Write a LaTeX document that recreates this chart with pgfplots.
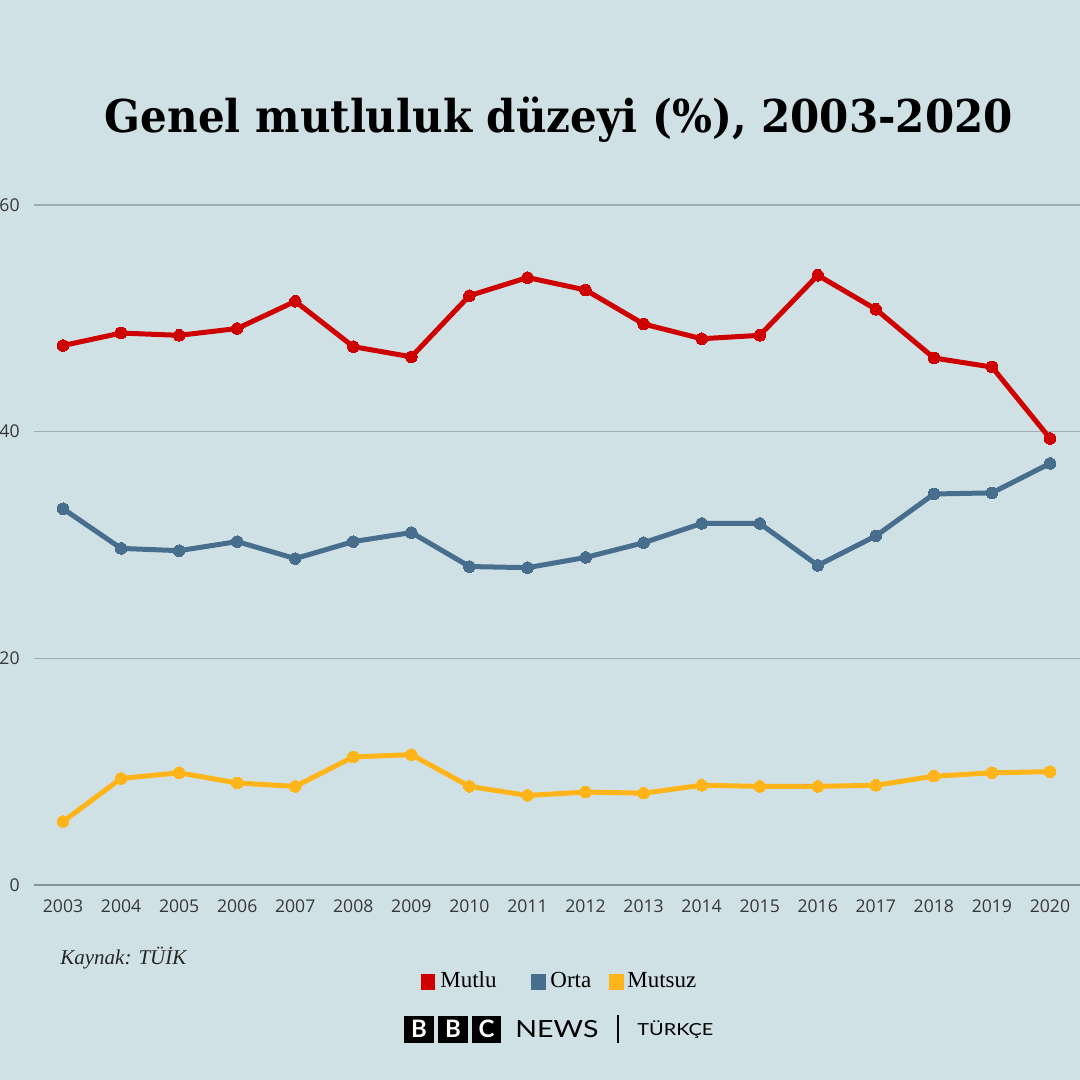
\documentclass[border=0pt]{standalone}
\usepackage{pgfplots}
\pgfplotsset{compat=1.18}
\usepackage{pgfplotstable}
\usepackage{graphicx}
\usepackage{fontspec}
\setmainfont{Liberation Serif}
\newfontfamily\tickfont{Open Sans}
\newfontfamily\titlefont{DejaVu Serif}
\newfontfamily\logofont{Lato}

\definecolor{bg}{RGB}{208,225,230}
\definecolor{cred}{RGB}{206,0,0}
\definecolor{cblue}{RGB}{72,110,142}
\definecolor{cyellow}{RGB}{255,180,25}
\definecolor{gridc}{RGB}{160,172,178}
\definecolor{axisc}{RGB}{135,145,150}
\definecolor{tickc}{RGB}{55,55,55}

\pgfplotstableread{
year mutlu orta mutsuz
2003 47.6 33.2 5.6
2004 48.7 29.7 9.4
2005 48.5 29.5 9.9
2006 49.1 30.3 9.0
2007 51.5 28.8 8.7
2008 47.5 30.3 11.3
2009 46.6 31.1 11.5
2010 52.0 28.1 8.7
2011 53.6 28.0 7.9
2012 52.5 28.9 8.2
2013 49.5 30.2 8.1
2014 48.2 31.9 8.8
2015 48.5 31.9 8.7
2016 53.8 28.2 8.7
2017 50.8 30.8 8.8
2018 46.5 34.5 9.6
2019 45.7 34.6 9.9
2020 39.4 37.2 10.0
}\datatable

\begin{document}
\begin{tikzpicture}
\useasboundingbox (0,0) rectangle (540bp,540bp);
\fill[bg] (0,0) rectangle (540bp,540bp);

\begin{axis}[
  at={(17bp,97.5bp)}, anchor=south west,
  scale only axis, width=523bp, height=340bp,
  xmin=2002.5, xmax=2020.516, ymin=0, ymax=60,
  axis lines*=left,
  y axis line style={draw=none},
  x axis line style={draw=axisc, line width=0.9bp},
  major tick length=0pt,
  xtick={2003,2004,...,2020},
  ytick={0,20,40,60},
  ymajorgrids,
  grid style={draw=gridc, line width=0.6bp},
  /pgf/number format/1000 sep={},
  /pgf/number format/assume math mode=true,
  tick label style={font=\tickfont\fontsize{8.8bp}{10bp}\selectfont, text=tickc},
  xticklabel style={anchor=north, inner sep=0pt, yshift=-7bp},
  yticklabel style={anchor=east, inner sep=0pt, xshift=-7bp},
  clip=false,
  every axis plot/.append style={line width=2.5bp, line join=round},
]
\addplot[cred, mark=*, mark size=2.9bp, mark options={fill=cred, draw=none, line width=0pt}] table[x=year, y=mutlu] {\datatable};
\addplot[cblue, mark=*, mark size=2.9bp, mark options={fill=cblue, draw=none, line width=0pt}] table[x=year, y=orta] {\datatable};
\addplot[cyellow, mark=*, mark size=2.9bp, mark options={fill=cyellow, draw=none, line width=0pt}] table[x=year, y=mutsuz] {\datatable};
\end{axis}

% title
\node[anchor=base, inner sep=0pt] at (279.5bp,473.5bp)
  {\resizebox{454bp}{\height}{\titlefont\bfseries\fontsize{22.6bp}{26bp}\selectfont Genel mutluluk düzeyi (\%), 2003-2020}};

% source
\node[anchor=base west, inner sep=0pt, text=black!85] at (30bp,57.5bp)
  {\fontsize{10.5bp}{12bp}\selectfont\itshape Kaynak: TÜİK};

% legend
\fill[cred] (210.5bp,45bp) rectangle (217.5bp,53bp);
\node[anchor=base west, inner sep=0pt] at (220bp,46bp) {\fontsize{11.5bp}{13bp}\selectfont Mutlu};
\fill[cblue] (265.5bp,45bp) rectangle (273bp,53bp);
\node[anchor=base west, inner sep=0pt] at (275bp,46bp) {\fontsize{11.5bp}{13bp}\selectfont Orta};
\fill[cyellow] (304.5bp,45bp) rectangle (312bp,53bp);
\node[anchor=base west, inner sep=0pt] at (313.5bp,46bp) {\fontsize{11.5bp}{13bp}\selectfont Mutsuz};

% BBC logo
\foreach \xa/\xb/\ltr in {202/217/B, 219/234/B, 236/250.5/C} {
  \fill[black] (\xa bp,18.5bp) rectangle (\xb bp,32bp);
  \node[text=white, inner sep=0pt, anchor=base] at ({(\xa+\xb)/2*1bp},21.3bp) {\logofont\bfseries\fontsize{12bp}{13bp}\selectfont \ltr};
}
\node[anchor=base west, inner sep=0pt] at (257.5bp,21.5bp)
  {\resizebox{41.5bp}{\height}{\logofont\fontsize{11.8bp}{13bp}\selectfont NEWS}};
\draw[black, line width=1bp] (309bp,18.5bp) -- (309bp,32.5bp);
\node[anchor=base west, inner sep=0pt] at (318.5bp,22.5bp)
  {\resizebox{38bp}{\height}{\logofont\fontsize{8.3bp}{10bp}\selectfont TÜRKÇE}};
\end{tikzpicture}
\end{document}
